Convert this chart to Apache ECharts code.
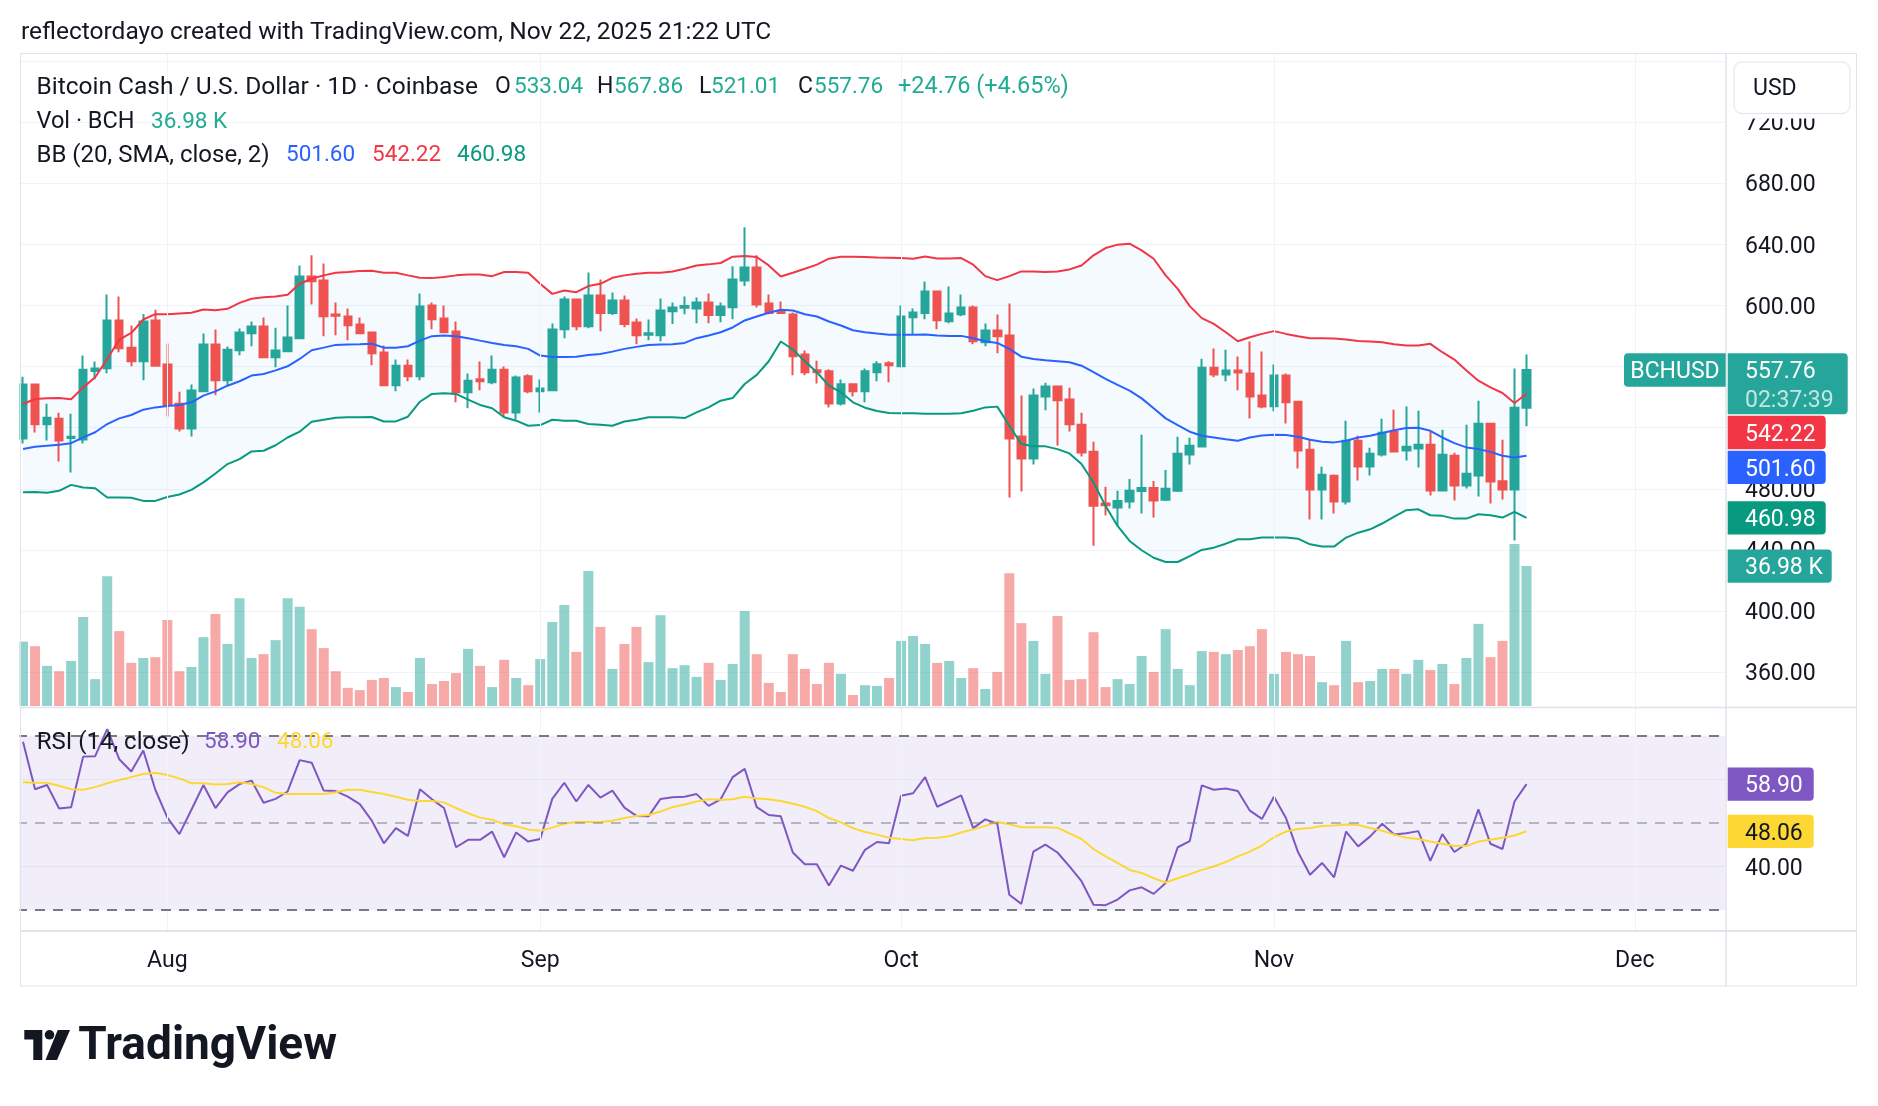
<!DOCTYPE html>
<html>
<head>
<meta charset="utf-8">
<title>BCHUSD</title>
<script src="https://cdn.jsdelivr.net/npm/echarts@6.0.0/dist/echarts.min.js"></script>
<style>
  html, body { margin: 0; padding: 0; background: #ffffff; }
  #main { width: 1878px; height: 1106px; }
</style>
</head>
<body>
<div id="main"></div>
<script>
// daily candles 2025-07-20 .. 2025-11-22
var firstDay = '2025-07-20';
var dayCount = 142; // the time axis runs on to Dec 8, past the last candle
var monthTicks = ['2025-08-01', '2025-09-01', '2025-10-01', '2025-11-01', '2025-12-01'];
var monthLabels = ['Aug', 'Sep', 'Oct', 'Nov', 'Dec'];

var opens = [513.0, 548.2, 522.2, 525.9, 513.2, 512.3, 557.1, 558.9, 590.2, 572.4,
  563.5, 590.2, 561.3, 535.7, 519.5, 543.8, 574.4, 551.0, 570.7, 581.9,
  586.2, 566.1, 570.1, 578.6, 619.0, 616.4, 594.1, 592.8, 587.5, 582.3,
  569.2, 547.8, 560.6, 553.6, 600.0, 591.5, 583.0, 543.2, 551.7, 549.7,
  558.0, 530.0, 553.6, 543.8, 544.5, 584.5, 603.9, 586.4, 606.6, 595.0,
  603.3, 588.8, 580.8, 580.5, 596.3, 598.5, 598.0, 602.0, 593.7, 598.9,
  616.4, 624.9, 601.3, 596.3, 594.1, 567.9, 557.6, 556.9, 535.9, 548.4,
  543.8, 556.3, 562.2, 560.2, 592.3, 595.0, 609.2, 589.7, 594.3, 598.7,
  576.0, 583.6, 580.3, 514.3, 499.9, 540.5, 546.9, 538.4, 522.0, 504.2,
  470.4, 467.7, 471.7, 478.5, 480.6, 472.8, 478.7, 502.5, 507.7, 559.3,
  554.9, 557.4, 555.4, 541.0, 534.0, 554.1, 537.0, 505.6, 479.6, 488.5,
  471.7, 511.5, 494.6, 502.5, 517.4, 505.1, 506.4, 508.8, 478.9, 501.6,
  482.2, 488.7, 522.6, 485.0, 479.6, 533.04];
var highs = [553.4, 548.6, 535.7, 529.8, 529.2, 567.2, 563.3, 607.2, 605.9, 586.9,
  594.5, 597.2, 575.1, 543.6, 548.2, 581.6, 584.3, 573.1, 584.9, 589.5,
  592.1, 585.4, 600.0, 626.2, 632.8, 627.5, 602.0, 598.0, 592.1, 583.0,
  573.8, 564.6, 564.6, 607.9, 602.0, 600.0, 589.5, 555.4, 563.3, 567.2,
  560.0, 554.1, 555.0, 551.5, 588.2, 605.9, 604.6, 621.6, 617.0, 608.5,
  606.6, 591.5, 590.8, 604.6, 602.0, 605.9, 605.2, 607.9, 602.0, 625.6,
  651.2, 632.8, 607.2, 602.6, 595.4, 570.5, 563.9, 558.2, 551.5, 548.6,
  558.7, 563.5, 563.5, 600.0, 598.0, 615.7, 609.8, 612.4, 607.2, 600.0,
  588.2, 594.1, 601.3, 541.0, 545.6, 549.5, 547.5, 546.2, 529.8, 510.8,
  481.3, 478.7, 486.5, 515.4, 485.2, 492.4, 514.1, 513.4, 565.2, 571.8,
  571.1, 566.6, 576.4, 569.8, 561.3, 555.4, 537.5, 512.1, 494.4, 489.4,
  524.6, 514.7, 506.9, 525.9, 531.8, 533.8, 531.1, 517.4, 518.7, 503.6,
  521.9, 537.7, 523.3, 512.1, 558.7, 567.86];
var lows = [509.7, 516.9, 511.7, 497.9, 490.7, 509.7, 551.7, 555.6, 569.4, 560.2,
  551.0, 560.2, 527.4, 517.6, 514.3, 543.2, 541.2, 547.7, 567.4, 573.3,
  565.5, 559.6, 569.5, 578.0, 600.7, 579.9, 580.5, 577.3, 581.2, 560.9,
  547.5, 543.8, 550.4, 551.0, 584.4, 581.8, 536.6, 532.7, 544.5, 548.4,
  527.4, 525.4, 542.5, 530.0, 543.8, 578.6, 583.8, 585.1, 583.2, 593.7,
  585.8, 574.6, 577.3, 576.6, 587.8, 594.3, 588.4, 588.4, 589.1, 591.0,
  612.7, 598.7, 594.3, 594.5, 554.3, 554.3, 549.0, 533.3, 534.6, 540.5,
  536.6, 550.4, 549.7, 559.8, 581.2, 591.0, 584.4, 588.4, 593.0, 574.6,
  573.3, 568.7, 474.3, 478.3, 495.9, 531.4, 508.4, 517.6, 501.2, 442.8,
  462.5, 456.2, 467.1, 463.8, 461.2, 472.1, 478.0, 495.9, 507.5, 553.0,
  550.4, 544.5, 526.1, 532.7, 530.7, 522.8, 493.3, 459.9, 459.9, 463.8,
  469.7, 485.4, 488.7, 501.2, 503.8, 498.6, 494.0, 475.6, 478.5, 472.3,
  480.2, 475.0, 470.4, 473.0, 446.1, 521.01];
var closes = [548.2, 522.2, 526.5, 511.7, 514.1, 558.0, 558.7, 590.2, 572.0, 563.5,
  589.5, 560.6, 534.9, 519.5, 544.3, 574.4, 551.0, 571.1, 582.3, 586.2,
  566.1, 570.5, 579.0, 619.0, 615.9, 593.0, 593.2, 587.1, 581.9, 568.7,
  547.8, 560.6, 553.6, 599.3, 591.0, 582.5, 543.2, 550.8, 550.4, 558.0,
  530.0, 552.8, 543.8, 545.6, 584.3, 603.9, 586.4, 606.6, 595.0, 603.3,
  587.8, 580.5, 581.9, 596.7, 598.7, 599.6, 602.0, 593.7, 599.3, 617.0,
  624.9, 600.7, 595.0, 595.0, 566.8, 556.3, 556.3, 535.9, 548.4, 543.8,
  556.9, 561.5, 560.9, 592.8, 595.4, 609.2, 590.4, 594.7, 598.7, 576.6,
  583.6, 579.9, 513.0, 499.9, 541.0, 546.9, 537.9, 522.2, 503.8, 469.0,
  469.3, 472.1, 478.7, 480.6, 472.3, 480.0, 502.9, 508.2, 559.3, 554.9,
  557.4, 556.1, 540.5, 533.8, 554.1, 536.6, 505.1, 479.6, 489.2, 471.7,
  511.5, 494.6, 502.9, 516.7, 504.5, 507.5, 508.8, 478.9, 502.3, 482.2,
  489.8, 522.6, 484.8, 479.6, 533.00, 557.76];
// volume in thousands of BCH
var volumes = [17.0, 15.8, 10.6, 9.2, 11.9, 23.5, 7.1, 34.3, 19.8, 11.4,
  12.7, 12.9, 22.7, 9.2, 10.3, 18.2, 24.3, 16.4, 28.5, 12.7,
  13.7, 17.4, 28.5, 26.2, 20.3, 15.3, 9.2, 4.8, 4.2, 6.9,
  7.4, 5.0, 3.7, 12.7, 5.8, 6.6, 8.7, 15.1, 10.6, 5.0,
  12.2, 7.4, 5.5, 12.4, 22.2, 26.7, 14.3, 35.7, 20.9, 9.8,
  16.4, 20.9, 11.6, 24.0, 10.0, 10.8, 7.7, 11.4, 6.9, 11.1,
  25.1, 13.7, 6.1, 3.7, 13.7, 9.8, 5.8, 11.4, 8.5, 2.9,
  5.5, 5.3, 7.4, 17.2, 18.5, 16.4, 11.4, 11.9, 7.4, 10.0,
  4.5, 9.0, 35.1, 21.9, 17.2, 8.5, 23.8, 6.9, 7.1, 19.5,
  5.0, 7.1, 5.8, 13.2, 9.0, 20.3, 9.8, 5.5, 14.5, 14.3,
  13.7, 14.8, 15.8, 20.3, 8.5, 14.3, 13.7, 13.2, 6.3, 5.5,
  17.2, 6.3, 6.6, 9.8, 9.8, 8.5, 12.2, 9.5, 11.1, 5.8,
  12.7, 21.7, 12.9, 17.2, 42.8, 36.98];
// Bollinger bands (20, SMA, close, 2)
var bbUpper = [535.5, 538.8, 539.2, 539.4, 538.6, 546.4, 553.0, 565.0, 577.7, 582.0,
  590.8, 594.3, 594.3, 594.8, 595.2, 597.4, 596.9, 597.8, 601.7, 604.4,
  605.4, 605.9, 607.0, 614.2, 617.5, 619.7, 621.4, 621.9, 622.5, 622.7,
  621.4, 621.4, 619.7, 618.1, 617.9, 618.6, 619.7, 620.3, 620.3, 619.2,
  621.9, 621.9, 621.4, 614.2, 607.6, 609.8, 608.7, 612.7, 614.2, 618.1,
  619.7, 620.8, 621.4, 621.4, 622.3, 624.0, 626.2, 626.9, 627.8, 631.9,
  632.3, 631.7, 626.2, 619.0, 621.4, 624.0, 626.7, 630.6, 631.9, 631.9,
  631.7, 631.4, 631.3, 631.0, 630.6, 632.1, 630.8, 630.8, 631.0, 626.7,
  619.2, 616.6, 619.2, 622.3, 622.3, 621.9, 622.3, 623.6, 626.2, 632.8,
  637.6, 639.8, 640.4, 636.1, 630.6, 619.7, 610.9, 599.6, 591.7, 588.0,
  582.5, 576.6, 579.2, 581.4, 583.2, 581.4, 579.9, 578.6, 578.6, 578.4,
  577.7, 576.8, 576.4, 575.9, 574.6, 573.8, 573.8, 574.9, 569.4, 564.6,
  557.4, 550.8, 546.4, 542.7, 536.2, 542.22];
var bbBasis = [506.0, 507.5, 508.2, 508.8, 509.9, 513.7, 517.0, 522.4, 526.1, 528.3,
  531.8, 533.3, 534.2, 534.9, 536.6, 541.0, 543.8, 547.5, 550.4, 554.1,
  555.2, 557.5, 560.2, 565.0, 570.7, 572.4, 574.2, 574.4, 574.6, 574.9,
  572.4, 572.4, 573.3, 577.0, 579.9, 580.3, 579.9, 578.6, 577.0, 575.5,
  574.2, 573.3, 571.6, 567.2, 566.3, 566.3, 566.5, 567.6, 568.3, 569.8,
  571.6, 572.9, 574.2, 574.4, 574.6, 575.5, 578.6, 580.3, 582.5, 585.6,
  590.2, 592.8, 595.2, 597.2, 596.7, 594.3, 592.8, 589.5, 586.9, 583.8,
  582.5, 581.6, 580.8, 580.8, 580.8, 581.0, 580.3, 580.1, 580.1, 578.6,
  576.6, 575.5, 571.6, 566.5, 565.0, 564.1, 563.5, 562.8, 560.6, 556.3,
  551.9, 548.0, 544.3, 539.2, 532.7, 526.1, 521.7, 517.4, 514.7, 513.6,
  512.5, 511.5, 513.6, 514.9, 515.4, 515.2, 514.1, 512.1, 510.8, 510.4,
  511.5, 513.6, 514.7, 516.5, 518.4, 519.8, 520.0, 518.0, 513.6, 509.9,
  507.1, 506.0, 504.2, 501.6, 500.5, 501.60];
var bbLower = [477.8, 478.0, 477.5, 478.7, 482.6, 480.9, 480.4, 474.3, 474.3, 474.1,
  472.1, 472.1, 474.7, 476.3, 479.3, 484.2, 490.0, 496.2, 499.4, 504.5,
  504.9, 508.5, 513.6, 517.4, 523.9, 525.2, 526.5, 526.8, 526.8, 527.0,
  524.1, 524.1, 527.2, 537.0, 542.1, 542.5, 542.1, 538.4, 534.9, 532.7,
  526.8, 524.6, 521.3, 521.7, 525.2, 524.6, 524.6, 522.4, 522.0, 521.3,
  524.1, 525.2, 526.8, 526.8, 526.8, 526.3, 530.0, 533.3, 537.7, 539.4,
  548.6, 554.6, 563.5, 576.4, 571.2, 563.5, 556.3, 547.5, 543.2, 536.6,
  533.1, 530.9, 529.6, 529.4, 529.4, 529.2, 529.2, 529.2, 529.4, 531.1,
  533.3, 533.8, 521.3, 509.3, 507.8, 507.8, 506.0, 503.2, 496.2, 484.1,
  468.8, 455.7, 445.9, 439.8, 434.9, 432.1, 432.1, 436.0, 440.0, 441.5,
  444.1, 447.0, 447.0, 448.1, 448.1, 448.1, 447.4, 443.7, 442.2, 442.2,
  448.1, 451.3, 453.5, 457.3, 461.8, 466.0, 466.6, 462.7, 462.3, 460.5,
  460.5, 463.4, 462.7, 461.2, 464.9, 460.98];
// RSI (14, close) and its 14-bar moving average
var rsi = [68.6, 57.7, 58.7, 53.3, 53.6, 65.2, 65.3, 71.5, 64.6, 61.8,
  66.6, 57.6, 51.2, 47.4, 53.0, 58.7, 53.4, 57.0, 58.9, 59.7,
  54.6, 55.5, 57.2, 64.4, 63.8, 57.4, 57.3, 56.0, 54.3, 50.5,
  45.3, 48.8, 47.0, 57.7, 55.4, 53.4, 44.4, 46.1, 46.1, 48.0,
  42.1, 47.8, 45.7, 46.3, 55.5, 59.2, 54.9, 58.7, 55.8, 57.4,
  53.5, 51.6, 51.5, 55.5, 55.9, 56.0, 56.6, 53.9, 55.4, 60.5,
  62.4, 53.6, 51.8, 51.5, 43.2, 40.5, 40.5, 35.6, 40.2, 39.0,
  43.8, 45.6, 45.3, 56.2, 56.8, 60.5, 53.7, 55.0, 56.3, 48.8,
  50.8, 49.8, 33.5, 31.4, 43.4, 45.0, 43.2, 40.0, 36.6, 31.2,
  31.1, 32.4, 34.5, 35.2, 33.7, 36.2, 44.4, 45.8, 58.6, 57.6,
  57.9, 57.3, 52.8, 50.9, 56.0, 51.1, 43.3, 38.1, 40.8, 37.5,
  48.0, 44.6, 46.9, 49.8, 47.3, 47.6, 48.1, 41.3, 47.4, 43.3,
  45.2, 53.1, 45.2, 44.0, 54.9, 58.90];
var rsiMa = [59.3, 59.2, 59.2, 58.5, 57.7, 57.6, 58.2, 59.1, 59.8, 60.5,
  61.2, 61.5, 61.0, 60.2, 59.1, 59.1, 58.8, 58.9, 59.3, 58.9,
  58.2, 56.9, 56.6, 56.6, 56.6, 56.6, 57.0, 57.6, 57.6, 57.1,
  56.6, 56.0, 55.3, 55.0, 55.0, 54.7, 53.4, 52.2, 51.2, 50.7,
  49.7, 49.2, 48.5, 48.2, 48.9, 49.8, 50.2, 50.2, 50.2, 50.5,
  51.1, 51.6, 51.8, 52.6, 53.6, 54.2, 54.9, 55.4, 55.3, 55.4,
  56.0, 55.6, 55.4, 55.0, 54.4, 53.7, 52.7, 51.1, 50.1, 48.8,
  47.9, 47.3, 46.6, 46.3, 46.0, 46.5, 46.6, 46.9, 47.8, 48.5,
  49.3, 50.2, 49.7, 49.0, 49.0, 49.0, 48.9, 47.6, 46.3, 44.0,
  42.3, 40.8, 39.2, 38.5, 37.3, 36.3, 37.3, 38.2, 39.2, 40.0,
  41.0, 42.3, 43.4, 44.8, 46.7, 48.0, 48.6, 48.8, 49.3, 49.4,
  49.6, 49.5, 48.8, 48.2, 47.3, 46.6, 46.3, 45.7, 45.2, 44.7,
  44.7, 45.7, 46.1, 46.6, 47.1, 48.06];
var rsiLevels = [70, 50, 30];
var rsiGridLevels = [60, 40];
var countdown = '02:37:39';

// colours (TradingView light theme)
var upColor = '#26a69a', downColor = '#ef5350';
var upVol = 'rgba(38,166,154,0.5)', downVol = 'rgba(239,83,80,0.5)';
var bbUpperColor = '#f23645', bbBasisColor = '#2962ff', bbLowerColor = '#089981';
var rsiColor = '#7e57c2', rsiMaColor = '#fdd835';
var gridColor = '#f0f3fa', frameColor = '#e0e3eb', textColor = '#131722';
var legendUp = '#22ab94';
var fontName = 'Roboto';
var textDrop = 2.5; // canvas "middle" sits a little high for this font

// category axis: one slot per day
var dates = [];
var t0 = Date.parse(firstDay + 'T00:00:00Z');
for (var i = 0; i < dayCount; i++) {
  dates.push(new Date(t0 + i * 86400000).toISOString().slice(0, 10));
}

var candleData = opens.map(function (o, i) { return [o, closes[i], lows[i], highs[i]]; });
var volData = volumes.map(function (v, i) {
  return { value: v, itemStyle: { color: closes[i] >= opens[i] ? upVol : downVol } };
});
var bbSpread = bbUpper.map(function (u, i) { return +(u - bbLower[i]).toFixed(2); });

var chart = echarts.init(document.getElementById('main'));

function hiddenX(gridIndex) {
  return {
    type: 'category', gridIndex: gridIndex, data: dates, boundaryGap: true,
    axisLine: { show: false }, axisTick: { show: false }, axisLabel: { show: false }, splitLine: { show: false }
  };
}
function bbLine(name, values, color) {
  return {
    name: name, type: 'line', xAxisIndex: 0, yAxisIndex: 0, data: values, symbol: 'none',
    silent: true, z: 4, lineStyle: { color: color, width: 2 }
  };
}
// scale labels, nudged down a little with a padded rich token
var scaleRich = { p: { padding: [textDrop * 2, 0, 0, 0], color: textColor, fontSize: 23, fontFamily: fontName } };

var option = {
  animation: false,
  backgroundColor: '#ffffff',
  grid: [
    { left: 17, width: 1708, top: 61, height: 672.3 },    // price
    { left: 17, width: 1708, top: 446, height: 260 },     // volume overlay
    { left: 17, width: 1708, top: 708, height: 222.6 },   // rsi
    { left: 17, width: 1708, top: 53.3, height: 877.3 }   // month grid lines
  ],
  xAxis: [
    hiddenX(0),
    hiddenX(1),
    {
      type: 'category', gridIndex: 2, data: dates, boundaryGap: true,
      axisLine: { show: false }, axisTick: { show: false }, splitLine: { show: false },
      axisLabel: {
        show: true, margin: 17 + textDrop, color: textColor, fontSize: 23, fontFamily: fontName,
        interval: function (index, value) { return monthTicks.indexOf(value) >= 0; },
        formatter: function (value) { return monthLabels[monthTicks.indexOf(value)]; }
      }
    },
    hiddenX(3)
  ],
  yAxis: [
    {
      type: 'value', gridIndex: 0, position: 'right', min: 320, max: 760, interval: 40,
      axisLine: { show: false }, axisTick: { show: false },
      axisLabel: {
        margin: 20, color: textColor, fontSize: 23, fontFamily: fontName, rich: scaleRich,
        showMinLabel: false, showMaxLabel: false,
        formatter: function (v) { return '{p|' + v.toFixed(2) + '}'; }
      },
      splitLine: { show: true, showMinLine: false, lineStyle: { color: gridColor, width: 1 } }
    },
    { type: 'value', gridIndex: 1, min: 0, max: 68.7, show: false },
    {
      type: 'value', gridIndex: 2, position: 'right', min: 25.27, max: 76.36,
      axisLine: { show: false }, axisTick: { show: false }, splitLine: { show: false },
      axisLabel: {
        margin: 20, color: textColor, fontSize: 23, fontFamily: fontName, rich: scaleRich,
        formatter: function (v) { return rsiGridLevels.indexOf(v) >= 0 ? '{p|' + v.toFixed(2) + '}' : ''; }
      }
    },
    { type: 'value', gridIndex: 3, min: 0, max: 1, show: false }
  ],
  series: [
    // vertical month lines through both panes
    {
      type: 'line', xAxisIndex: 3, yAxisIndex: 3, data: [], silent: true, z: 0,
      markLine: {
        silent: true, symbol: 'none', label: { show: false },
        lineStyle: { color: gridColor, width: 1, type: 'solid' },
        data: monthTicks.map(function (d) { return { xAxis: d }; })
      }
    },
    // bollinger band fill (lower + spread, stacked)
    {
      type: 'line', xAxisIndex: 0, yAxisIndex: 0, data: bbLower, stack: 'bb', symbol: 'none',
      silent: true, z: 1, lineStyle: { opacity: 0 }
    },
    {
      type: 'line', xAxisIndex: 0, yAxisIndex: 0, data: bbSpread, stack: 'bb', symbol: 'none',
      silent: true, z: 1, lineStyle: { opacity: 0 }, areaStyle: { color: 'rgba(33,150,243,0.05)', opacity: 1 }
    },
    {
      type: 'bar', xAxisIndex: 1, yAxisIndex: 1, data: volData, barWidth: 10, silent: true, z: 2
    },
    {
      type: 'candlestick', xAxisIndex: 0, yAxisIndex: 0, data: candleData, barWidth: 8, silent: true, z: 3,
      itemStyle: { color: upColor, color0: downColor, borderColor: upColor, borderColor0: downColor, borderWidth: 2 }
    },
    bbLine('upper', bbUpper, bbUpperColor),
    bbLine('basis', bbBasis, bbBasisColor),
    bbLine('lower', bbLower, bbLowerColor),
    // rsi band and level lines
    {
      type: 'line', xAxisIndex: 2, yAxisIndex: 2, data: [], silent: true, z: 1,
      markArea: {
        silent: true, itemStyle: { color: 'rgba(126,87,194,0.1)' },
        data: [[{ yAxis: rsiLevels[0] }, { yAxis: rsiLevels[2] }]]
      },
      markLine: {
        silent: true, symbol: 'none', label: { show: false },
        data: [
          { yAxis: rsiGridLevels[0], lineStyle: { color: 'rgba(42,46,57,0.06)', width: 1, type: 'solid' } },
          { yAxis: rsiGridLevels[1], lineStyle: { color: 'rgba(42,46,57,0.06)', width: 1, type: 'solid' } },
          { yAxis: rsiLevels[0], lineStyle: { color: '#787b86', width: 2, type: [10, 8] } },
          { yAxis: rsiLevels[1], lineStyle: { color: 'rgba(120,123,134,0.5)', width: 2, type: [10, 8] } },
          { yAxis: rsiLevels[2], lineStyle: { color: '#787b86', width: 2, type: [10, 8] } }
        ]
      }
    },
    {
      type: 'line', xAxisIndex: 2, yAxisIndex: 2, data: rsi, symbol: 'none', silent: true, z: 3,
      lineStyle: { color: rsiColor, width: 2 }
    },
    {
      type: 'line', xAxisIndex: 2, yAxisIndex: 2, data: rsiMa, symbol: 'none', silent: true, z: 4,
      lineStyle: { color: rsiMaColor, width: 2 }
    }
  ]
};
chart.setOption(option);

// ---- overlay: frame, legends, price tags, logo ----
var last = closes.length - 1;
var change = closes[last] - closes[last - 1];
var changePct = change / closes[last - 1] * 100;
var g = [];

function font(size, weight) { return (weight ? weight + ' ' : '') + size + 'px ' + fontName; }
function addText(x, y, text, color, size, weight, align) {
  g.push({
    type: 'text', x: x, y: y + textDrop, z: 120, silent: true,
    style: { text: text, fill: color, font: font(size, weight), textAlign: align || 'left', textVerticalAlign: 'middle' }
  });
}
function addRect(x, y, w, h, fill, z, r, stroke) {
  g.push({
    type: 'rect', z: z, silent: true,
    shape: { x: x, y: y, width: w, height: h, r: r || 0 },
    style: { fill: fill, stroke: stroke || null, lineWidth: stroke ? 1 : 0 }
  });
}
function addLine(x1, y1, x2, y2, w) {
  g.push({
    type: 'line', z: 90, silent: true,
    shape: { x1: x1, y1: y1, x2: x2, y2: y2 },
    style: { stroke: frameColor, lineWidth: w || 1 }
  });
}

// clip strip left of the plot, frame and pane separators
addRect(0, 50, 19.5, 940, '#ffffff', 80);
g.push({ type: 'rect', z: 90, silent: true, shape: { x: 20.5, y: 53.5, width: 1836, height: 932.5 },
  style: { fill: 'none', stroke: frameColor, lineWidth: 1 } });
addLine(20, 707.6, 1857, 707.6, 1.5);
addLine(20, 931, 1857, 931, 2);
addLine(1726, 53.5, 1726, 986, 1.5);

// currency button over the top of the price scale
addRect(1727, 54.5, 129, 64, '#ffffff', 95);
addRect(1734, 62, 116, 51.5, '#ffffff', 96, 8, frameColor);
addText(1753, 87, 'USD', textColor, 23);

// header and legends
addText(21, 30, 'reflectordayo created with TradingView.com, Nov 22, 2025 21:22 UTC', textColor, 24.5);
addText(36.5, 85, 'Bitcoin Cash / U.S. Dollar · 1D · Coinbase', textColor, 24.5);
var ohlc = [['O', opens[last], 495, 514], ['H', highs[last], 597, 614], ['L', lows[last], 699, 711], ['C', closes[last], 798, 814]];
ohlc.forEach(function (p) {
  addText(p[2], 85, p[0], textColor, 23);
  addText(p[3], 85, p[1].toFixed(2), legendUp, 22.5);
});
addText(898, 85, (change >= 0 ? '+' : '') + change.toFixed(2) + ' (' + (change >= 0 ? '+' : '') + changePct.toFixed(2) + '%)', legendUp, 23.5);
addText(36.5, 120, 'Vol · BCH', textColor, 23.5);
addText(151, 120, volumes[last].toFixed(2) + ' K', legendUp, 22.5);
addText(36.5, 153.3, 'BB (20, SMA, close, 2)', textColor, 24);
addText(286, 153.3, bbBasis[last].toFixed(2), bbBasisColor, 22.5);
addText(372, 153.3, bbUpper[last].toFixed(2), bbUpperColor, 22.5);
addText(457, 153.3, bbLower[last].toFixed(2), bbLowerColor, 22.5);
addText(36.7, 740, 'RSI (14, close)', textColor, 24);
addText(204, 740, rsi[last].toFixed(2), rsiColor, 22.5);
addText(277, 740, rsiMa[last].toFixed(2), rsiMaColor, 22.5);

// price scale tags, pushed down where they would overlap
var tagH = 33.3;
var priceTags = [
  { value: closes[last], color: upColor, w: 120, sub: countdown },
  { value: bbUpper[last], color: bbUpperColor, w: 98 },
  { value: bbBasis[last], color: bbBasisColor, w: 98 },
  { value: bbLower[last], color: bbLowerColor, w: 98 }
];
priceTags.forEach(function (t) { t.y = chart.convertToPixel({ yAxisIndex: 0 }, t.value); });
priceTags.sort(function (a, b) { return a.y - b.y; });
var prevBottom = -1e9;
priceTags.forEach(function (t) {
  var top = t.y - tagH / 2;
  if (top < prevBottom + 1.5) top = prevBottom + 1.5;
  var h = t.sub ? 61 : tagH;
  addRect(1727.7, top, t.w, h, t.color, 110, [0, 4, 4, 0]);
  addText(1745, top + tagH / 2, t.value.toFixed(2), '#ffffff', 23);
  if (t.sub) {
    addText(1745, top + 45, t.sub, 'rgba(255,255,255,0.72)', 23);
    addRect(1624, top, 101.7, tagH, t.color, 110, [4, 0, 0, 4]);
    addText(1675, top + tagH / 2, 'BCHUSD', '#ffffff', 23, null, 'center');
  }
  prevBottom = top + h;
});
var volY = chart.convertToPixel({ yAxisIndex: 1 }, volumes[last]);
addRect(1727.7, volY - tagH / 2, 104, tagH, upColor, 110, [0, 4, 4, 0]);
addText(1745, volY, volumes[last].toFixed(2) + ' K', '#ffffff', 23);
[[rsi[last], rsiColor, '#ffffff'], [rsiMa[last], rsiMaColor, textColor]].forEach(function (p) {
  var y = chart.convertToPixel({ yAxisIndex: 2 }, p[0]);
  addRect(1727.7, y - tagH / 2, 86, tagH, p[1], 110, [0, 4, 4, 0]);
  addText(1745, y, p[0].toFixed(2), p[2], 23);
});

// TradingView logo
g.push({ type: 'polygon', z: 120, silent: true,
  shape: { points: [[24.3, 1030], [42.3, 1030], [42.3, 1060], [33.3, 1060], [33.3, 1039.5], [24.3, 1039.5]] },
  style: { fill: textColor } });
g.push({ type: 'circle', z: 120, silent: true, shape: { cx: 49.5, cy: 1034.8, r: 4.8 }, style: { fill: textColor } });
g.push({ type: 'polygon', z: 120, silent: true,
  shape: { points: [[57.7, 1030], [70, 1030], [57, 1060], [45.5, 1060]] }, style: { fill: textColor } });
addText(78.3, 1045, 'TradingView', textColor, 46, 'bold');

chart.setOption({ graphic: g });
</script>
</body>
</html>
